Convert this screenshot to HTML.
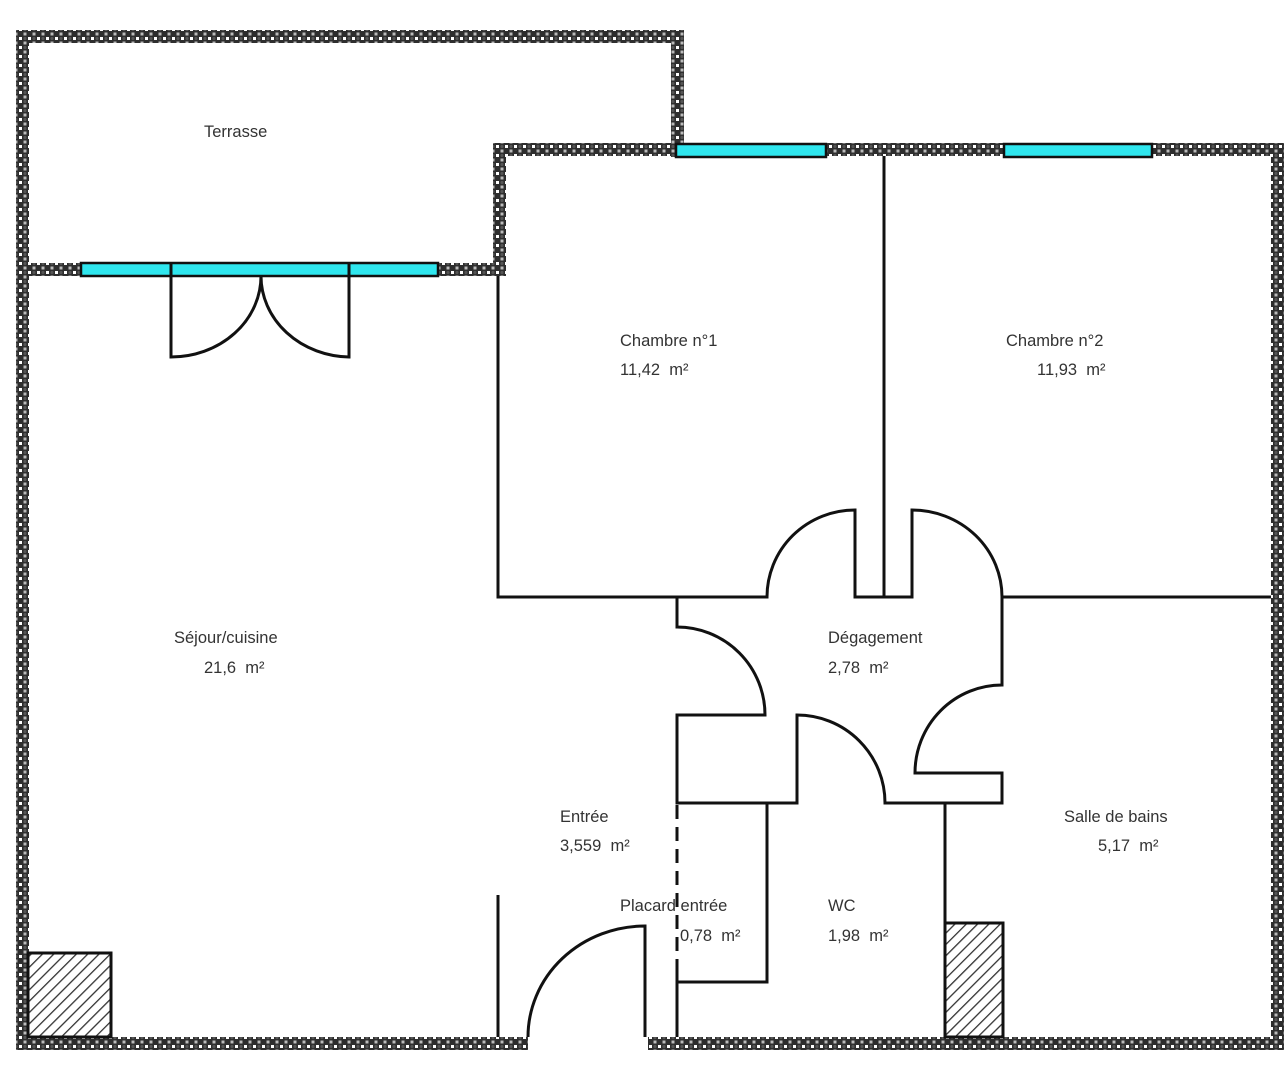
<!DOCTYPE html>
<html><head><meta charset="utf-8"><style>
html,body{margin:0;padding:0;background:#fff}
svg{display:block}
text{font-family:"Liberation Sans",Arial,sans-serif;font-size:16.5px;fill:#333}
</style></head><body>
<svg width="1288" height="1072" viewBox="0 0 1288 1072">
<defs>
<pattern id="w" width="9" height="9" patternUnits="userSpaceOnUse">
<rect width="9" height="9" fill="#2e2e2e"/>
<rect x="1" y="1" width="3" height="3" fill="#fff"/>
<rect x="5.5" y="5.5" width="3" height="3" fill="#bbb"/>
<circle cx="7" cy="2.5" r="1.6" fill="#555"/>
</pattern>
<pattern id="h" width="8" height="8" patternUnits="userSpaceOnUse" patternTransform="rotate(45)">
<rect width="8" height="8" fill="#fff"/><rect width="1.3" height="8" fill="#333"/>
</pattern>
</defs>
<g fill="url(#w)">
<rect x="16" y="30" width="668" height="13"/>
<rect x="16" y="30" width="13" height="1020"/>
<rect x="671" y="30" width="13" height="127"/>
<rect x="493" y="143" width="791" height="13"/>
<rect x="493" y="143" width="13" height="133"/>
<rect x="16" y="263" width="490" height="13"/>
<rect x="1271" y="143" width="13" height="907"/>
<rect x="16" y="1037" width="512" height="13"/>
<rect x="648" y="1037" width="636" height="13"/>
</g>
<g fill="#2fe6ee" stroke="#111" stroke-width="2.5">
<rect x="81" y="263" width="357" height="13"/>
<rect x="676" y="144" width="150" height="13"/>
<rect x="1004" y="144" width="148" height="13"/>
</g>
<g stroke="#111" stroke-width="3" fill="none">
<line x1="171" y1="263" x2="171" y2="276"/><line x1="349" y1="263" x2="349" y2="276"/>
<path d="M171 276 V357 A90 81 0 0 0 261 276 A90 81 0 0 0 349 357 V276"/>
<path d="M498 276 V597 H767 A88 87 0 0 1 855 510 V597 H912 V510 A90 87 0 0 1 1002 597 V685 A87 88 0 0 0 915 773 H1002 V803 H885 A88 88 0 0 0 797 715 V803 H677 V715 H765 A88 88 0 0 0 677 627 V597"/>
<line x1="884" y1="156" x2="884" y2="597"/>
<line x1="1002" y1="597" x2="1271" y2="597"/>
<line x1="945" y1="803" x2="945" y2="1037"/>
<path d="M767 803 V982 H677"/>
<line x1="677" y1="970" x2="677" y2="1037"/>
<line x1="677" y1="805" x2="677" y2="970" stroke-dasharray="14,8"/>
<line x1="498" y1="895" x2="498" y2="1037"/>
<path d="M528 1037 A117 111 0 0 1 645 926 V1037"/>
<rect x="28" y="953" width="83" height="84" fill="url(#h)"/>
<rect x="945" y="923" width="58" height="114" fill="url(#h)"/>
</g>
<text x="204" y="137">Terrasse</text>
<text x="620" y="346">Chambre n°1</text>
<text x="620" y="375">11,42&#160;&#160;m²</text>
<text x="1006" y="346">Chambre n°2</text>
<text x="1037" y="375">11,93&#160;&#160;m²</text>
<text x="828" y="643">Dégagement</text>
<text x="828" y="673">2,78&#160;&#160;m²</text>
<text x="174" y="643">Séjour/cuisine</text>
<text x="204" y="673">21,6&#160;&#160;m²</text>
<text x="560" y="822">Entrée</text>
<text x="560" y="851">3,559&#160;&#160;m²</text>
<text x="620" y="911">Placard entrée</text>
<text x="680" y="941">0,78&#160;&#160;m²</text>
<text x="828" y="911">WC</text>
<text x="828" y="941">1,98&#160;&#160;m²</text>
<text x="1064" y="822">Salle de bains</text>
<text x="1098" y="851">5,17&#160;&#160;m²</text>
</svg>
</body></html>
